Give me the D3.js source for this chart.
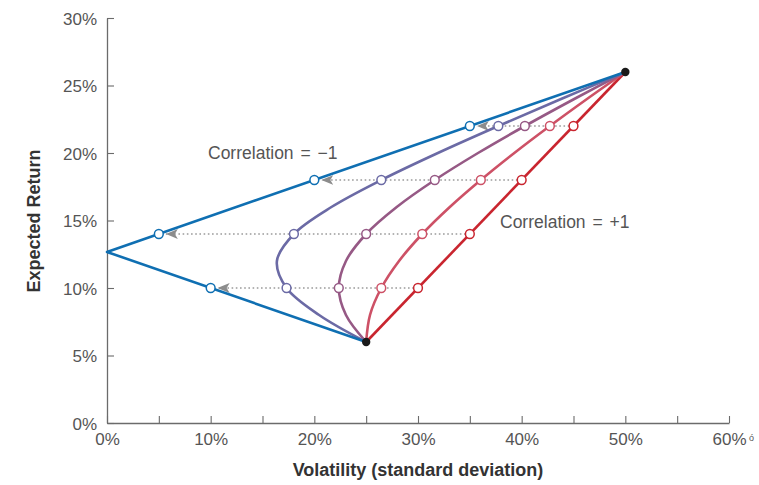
<!DOCTYPE html>
<html>
<head>
<meta charset="utf-8">
<script src="https://cdn.jsdelivr.net/npm/d3@7"></script>
<style>
  html, body { margin: 0; padding: 0; background: #fff; }
  svg { display: block; }
  text { font-family: "Liberation Sans", Arial, Helvetica, sans-serif; }
</style>
</head>
<body>
<svg id="chart" width="759" height="485"></svg>
<script>
// ---- Data ----
// Expected returns (%) at which each curve is sampled
const returnsGrid = [6, 8, 10, 12, 14, 16, 18, 20, 22, 24, 26];
// Volatility (%) of each correlation curve at those returns
const volCorrM05 = [25, 20.46, 17.32, 16.39, 18.03, 21.65, 26.46, 31.92, 37.75, 43.80, 50];
const volCorr0   = [25, 23.05, 22.36, 23.05, 25.00, 27.95, 31.62, 35.79, 40.31, 45.07, 50];
const volCorrP05 = [25, 25.37, 26.46, 28.17, 30.41, 33.07, 36.06, 39.29, 42.72, 46.30, 50];
// Correlation = -1 (kinked line) and +1 (straight line)
const volCorrM1 = [25, 0, 50];
const retCorrM1 = [6, 12.67, 26];
const volCorrP1 = [25, 50];
const retCorrP1 = [6, 26];
// Marked portfolios (hollow dots) at these returns
const markReturns = [10, 14, 18, 22];
const markVolM1  = [10, 5, 20, 35];
const markVolM05 = [17.32, 18.03, 26.46, 37.75];
const markVol0   = [22.36, 25.00, 31.62, 40.31];
const markVolP05 = [26.46, 30.41, 36.06, 42.72];
const markVolP1  = [30, 35, 40, 45];
// The two assets
const assetVol = [25, 50];
const assetRet = [6, 26];
// Axis ticks
const xTicks = [0, 5, 10, 15, 20, 25, 30, 35, 40, 45, 50, 55, 60];
const yTicks = [0, 5, 10, 15, 20, 25, 30];

const colors = { m1: "#0f6fb2", m05: "#6b6aa5", z: "#965985", p05: "#cd5166", p1: "#c9252f" };

const svg = d3.select("#chart");
const x = d3.scaleLinear().domain([0, 60]).range([107, 729]);
const y = d3.scaleLinear().domain([0, 30]).range([423, 18]);

const axisColor = "#6b6b6b";
const textColor = "#555";

// Axes
const xAxis = d3.axisBottom(x).tickValues(xTicks).tickSizeInner(-7).tickSizeOuter(0).tickPadding(10)
  .tickFormat(d => d % 10 === 0 ? d + "%" : "");
const gx = svg.append("g").attr("transform", `translate(0,${y(0)})`).call(xAxis);
const yAxis = d3.axisLeft(y).tickValues(yTicks).tickSizeInner(-7).tickSizeOuter(0).tickPadding(10)
  .tickFormat(d => d + "%");
const gy = svg.append("g").attr("transform", `translate(${x(0)},0)`).call(yAxis);
[gx, gy].forEach(g => {
  g.select(".domain").attr("stroke", axisColor).attr("stroke-width", 1.3);
  g.selectAll(".tick line").attr("stroke", axisColor).attr("stroke-width", 1.1);
  g.selectAll(".tick text").attr("fill", textColor).style("font-size", "17px")
   .style("font-family", "'Liberation Sans', Arial, sans-serif");
});
gy.selectAll(".tick text").attr("dy", "0.36em");

// stray glyph near 60%
svg.append("text").attr("x", x(60) + 20).attr("y", y(0) + 18).attr("fill", textColor)
  .style("font-size", "9px").text("ó");

// Axis titles
svg.append("text").attr("x", 418).attr("y", 476).attr("text-anchor", "middle")
  .attr("fill", "#333").style("font-size", "18px").style("font-weight", "bold")
  .text("Volatility (standard deviation)");
svg.append("text").attr("transform", "translate(40,221) rotate(-90)").attr("text-anchor", "middle")
  .attr("fill", "#333").style("font-size", "18px").style("font-weight", "bold")
  .text("Expected Return");

// Dotted arrows
const defs = svg.append("defs");
defs.append("marker").attr("id", "arr").attr("viewBox", "0 0 12 10").attr("refX", 12).attr("refY", 5)
  .attr("markerWidth", 12).attr("markerHeight", 10).attr("markerUnits", "userSpaceOnUse").attr("orient", "auto")
  .append("path").attr("d", "M0,0 L12,5 L0,10 L3,5 Z").attr("fill", "#8c8c8c");

markReturns.forEach((r, i) => {
  svg.append("line")
    .attr("x1", x(markVolP1[i])).attr("x2", x(markVolM1[i]) + 7)
    .attr("y1", y(r)).attr("y2", y(r))
    .attr("stroke", "#9a9a9a").attr("stroke-width", 1.6)
    .attr("stroke-dasharray", "1.6,2.6")
    .attr("marker-end", "url(#arr)");
});

// Curves
const line = d3.line().x(d => x(d[0])).y(d => y(d[1]));
const curveLine = d3.line().x(d => x(d[0])).y(d => y(d[1])).curve(d3.curveCatmullRom.alpha(0.5));
const zip = (a, b) => a.map((v, i) => [v, b[i]]);

const series = [
  { pts: zip(volCorrP1, retCorrP1), gen: line, c: colors.p1 },
  { pts: zip(volCorrP05, returnsGrid), gen: curveLine, c: colors.p05 },
  { pts: zip(volCorr0, returnsGrid), gen: curveLine, c: colors.z },
  { pts: zip(volCorrM05, returnsGrid), gen: curveLine, c: colors.m05 },
  { pts: zip(volCorrM1, retCorrM1), gen: line, c: colors.m1 }
];
series.forEach(s => {
  svg.append("path").attr("d", s.gen(s.pts)).attr("fill", "none")
    .attr("stroke", s.c).attr("stroke-width", 2.6).attr("stroke-linejoin", "round");
});

// Hollow dots
const marks = [
  { v: markVolM1, c: colors.m1 }, { v: markVolM05, c: colors.m05 }, { v: markVol0, c: colors.z },
  { v: markVolP05, c: colors.p05 }, { v: markVolP1, c: colors.p1 }
];
marks.forEach(m => {
  svg.selectAll(null).data(markReturns).enter().append("circle")
    .attr("cx", (r, i) => x(m.v[i])).attr("cy", r => y(r)).attr("r", 4.4)
    .attr("fill", "#fff").attr("stroke", m.c).attr("stroke-width", 1.5);
});

// Asset dots
svg.selectAll(null).data(assetVol).enter().append("circle")
  .attr("cx", d => x(d)).attr("cy", (d, i) => y(assetRet[i])).attr("r", 4.2).attr("fill", "#1a1a1a");

// Labels
svg.append("text").attr("x", 208).attr("y", 159).attr("fill", textColor).style("font-size", "17.5px")
  .style("word-spacing", "2px").text("Correlation = \u22121");
svg.append("text").attr("x", 500).attr("y", 228).attr("fill", textColor).style("font-size", "17.5px")
  .style("word-spacing", "2px").text("Correlation = +1");
</script>
</body>
</html>
